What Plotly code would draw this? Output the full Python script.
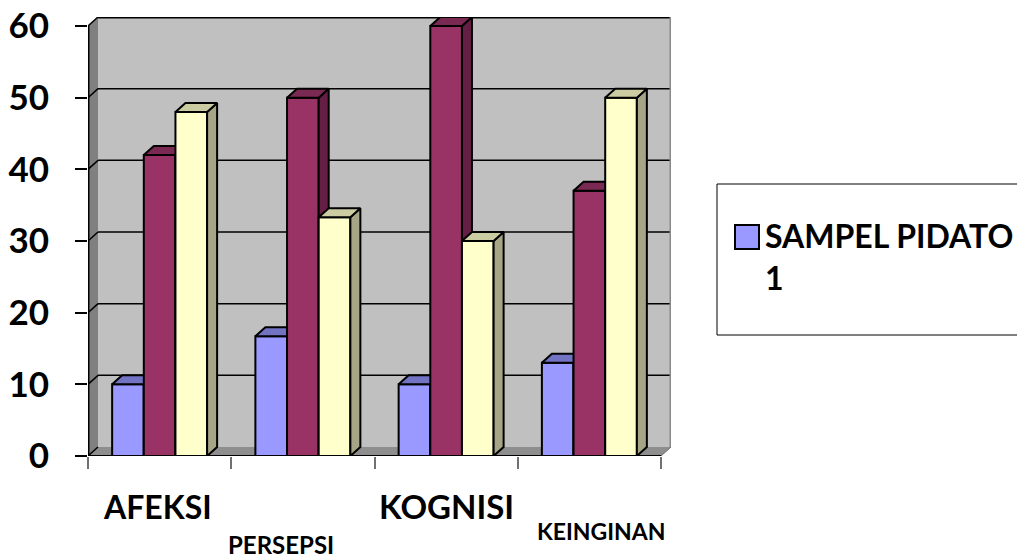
import plotly.graph_objects as go

# ---- data -------------------------------------------------------------
categories = ["AFEKSI", "PERSEPSI", "KOGNISI", "KEINGINAN"]
series_names = ["SAMPEL PIDATO 1", "SAMPEL PIDATO 2", "SAMPEL PIDATO 3"]
values_1 = [10, 16.7, 10, 13]
values_2 = [42, 50, 60, 37]
values_3 = [48, 33.3, 30, 50]
y_ticks = [0, 10, 20, 30, 40, 50, 60]

# ---- styling ----------------------------------------------------------
front_colors = ["#9999FF", "#993366", "#FFFFCC"]
top_colors = ["#7373C4", "#7A2952", "#CCCCA3"]
side_colors = ["#5E5EA8", "#661F44", "#A6A686"]
label_sizes = [32, 24, 33, 23]
label_y_px = [506, 544, 506, 531]
label_xshift = [-2, -22, 0, 12]

W, H = 1017, 560
ML, MR, MT, MB = 88, 346, 17, 104
PX_PER_CAT = 143.25
PX_PER_UNIT = 430 / 60
DX = 10 / PX_PER_CAT          # depth of the 3-D box, x direction (data units)
DY = 9 / PX_PER_UNIT          # depth of the 3-D box, y direction (data units)
XMIN = -0.5
XEND = len(categories) - 0.5
XMAX = XEND + DX
YTOP = max(y_ticks)
YMAX = YTOP + DY
BAR_W = 0.221
FONT = "Lato"


def px_x(px):
    return (px - ML) / (W - ML - MR)


def px_y(py):
    return (H - MB - py) / (H - MT - MB)


fig = go.Figure()

all_values = [values_1, values_2, values_3]
for s, vals in enumerate(all_values):
    xa = "x" if s == 0 else f"x{s + 1}"
    ya = "y" if s == 0 else f"y{s + 1}"
    offset = (s - 1.5) * BAR_W
    xs = list(range(len(categories)))
    fig.add_trace(go.Bar(
        x=xs, y=vals, width=BAR_W, offset=offset,
        marker=dict(color=front_colors[s], line=dict(color="black", width=2)),
        name=series_names[s], showlegend=False, xaxis=xa, yaxis=ya,
        hoverinfo="skip",
    ))
    side_x, side_y, top_x, top_y = [], [], [], []
    for i, v in zip(xs, vals):
        left = i + offset
        right = left + BAR_W
        side_x += [right, right + DX, right + DX, right, right, None]
        side_y += [0, DY, v + DY, v, 0, None]
        top_x += [left, left + DX, right + DX, right, left, None]
        top_y += [v, v + DY, v + DY, v, v, None]
    for px_, py_, col in ((side_x, side_y, side_colors[s]), (top_x, top_y, top_colors[s])):
        fig.add_trace(go.Scatter(
            x=px_, y=py_, mode="lines", fill="toself", fillcolor=col,
            line=dict(color="black", width=2), showlegend=False,
            xaxis=xa, yaxis=ya, hoverinfo="skip",
        ))

# ---- walls, floor and gridlines --------------------------------------
shapes = []


def poly(pts):
    return "M" + " L".join(f"{x},{y}" for x, y in pts) + " Z"


shapes.append(dict(type="rect", xref="x", yref="y", layer="below",
                   x0=XMIN + DX, x1=XMAX, y0=DY, y1=YMAX,
                   fillcolor="#C0C0C0", line=dict(width=0)))
shapes.append(dict(type="path", xref="x", yref="y", layer="below",
                   path=poly([(XMIN, 0), (XMIN + DX, DY), (XMIN + DX, YMAX), (XMIN, YTOP)]),
                   fillcolor="#808080", line=dict(width=0)))
shapes.append(dict(type="path", xref="x", yref="y", layer="below",
                   path=poly([(XMIN, 0), (XMIN + DX, DY), (XMAX, DY), (XEND, 0)]),
                   fillcolor="#8E8E8E", line=dict(width=0)))
for v in y_ticks:
    shapes.append(dict(type="line", xref="x", yref="y", layer="below",
                       x0=XMIN, y0=v, x1=XMIN + DX, y1=v + DY,
                       line=dict(color="black", width=1.5)))
    if v > 0:
        shapes.append(dict(type="line", xref="x", yref="y", layer="below",
                           x0=XMIN + DX, y0=v + DY, x1=XMAX, y1=v + DY,
                           line=dict(color="black", width=3 if v == YTOP else 1.5)))
shapes.append(dict(type="line", xref="x", yref="y", layer="below",
                   x0=XMAX, y0=DY, x1=XMAX, y1=YMAX,
                   line=dict(color="#8A8A8A", width=3)))
shapes.append(dict(type="line", xref="x", yref="y", layer="below",
                   x0=XEND, y0=0, x1=XMAX, y1=DY,
                   line=dict(color="#6A6A6A", width=1)))
shapes.append(dict(type="line", xref="x", yref="y", layer="below",
                   x0=XMIN, y0=0, x1=XMIN, y1=YTOP,
                   line=dict(color="black", width=3)))
shapes.append(dict(type="line", xref="x", yref="y", layer="below",
                   x0=XMIN, y0=0, x1=XEND, y1=0,
                   line=dict(color="black", width=2)))

# ---- legend box (only first entry fits on the canvas) -----------------
shapes.append(dict(type="rect", xref="paper", yref="paper",
                   x0=px_x(717), x1=px_x(1040), y0=px_y(335), y1=px_y(184),
                   fillcolor="white", line=dict(color="black", width=1)))
shapes.append(dict(type="rect", xref="paper", yref="paper",
                   x0=px_x(735), x1=px_x(759), y0=px_y(249), y1=px_y(225),
                   fillcolor=front_colors[0], line=dict(color="black", width=2)))

annotations = [dict(
    xref="paper", yref="paper", x=px_x(763), y=px_y(214), xanchor="left", yanchor="top",
    text=series_names[0].replace(" 1", "<br>1"), align="left", showarrow=False,
    font=dict(family=FONT, size=32, color="black", weight=700),
)]

# ---- category labels ---------------------------------------------------
for i, cat in enumerate(categories):
    annotations.append(dict(
        xref="x", yref="paper", x=i, y=px_y(label_y_px[i]), xshift=label_xshift[i],
        xanchor="center", yanchor="middle", text=cat, showarrow=False,
        font=dict(family=FONT, size=label_sizes[i], color="black", weight=700),
    ))

axis_common = dict(showgrid=False, zeroline=False, fixedrange=True, automargin=False)
layout = dict(
    width=W, height=H,
    margin=dict(l=ML, r=MR, t=MT, b=MB, pad=0, autoexpand=False),
    paper_bgcolor="white", plot_bgcolor="white",
    showlegend=False, barmode="overlay",
    shapes=shapes, annotations=annotations,
    xaxis=dict(range=[XMIN, XMAX], tickvals=[i - 0.5 for i in range(len(categories) + 1)],
               ticks="outside", ticklen=12, tickwidth=1.5, tickcolor="#707070",
               showticklabels=False, showline=False, **axis_common),
    yaxis=dict(range=[0, YMAX], tickvals=y_ticks, ticktext=[str(t) for t in y_ticks],
               ticks="outside", ticklen=12, tickwidth=1.5, tickcolor="black",
               ticklabelstandoff=19, showline=False,
               tickfont=dict(family=FONT, size=35, color="black", weight=700),
               **axis_common),
)
for k in (2, 3):
    layout[f"xaxis{k}"] = dict(range=[XMIN, XMAX], overlaying="x", visible=False, **axis_common)
    layout[f"yaxis{k}"] = dict(range=[0, YMAX], overlaying="y", visible=False, **axis_common)

fig.update_layout(**layout)
fig.write_html("out.html", config={"displayModeBar": False})
